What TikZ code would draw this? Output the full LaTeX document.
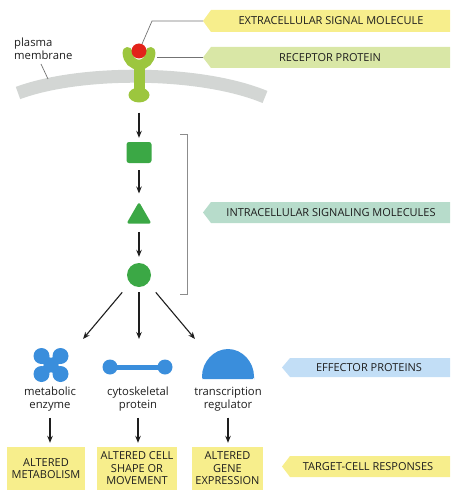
\documentclass[tikz,border=0pt]{standalone}
\usepackage{fontspec}
\setmainfont{Open Sans}
\usetikzlibrary{arrows.meta,shapes.geometric}
\definecolor{ylw}{HTML}{F7EE8C}
\definecolor{rgreen}{HTML}{D9E7A6}
\definecolor{tealb}{HTML}{B7DCCB}
\definecolor{lblue}{HTML}{C2DEF6}
\definecolor{memb}{HTML}{D3D6D4}
\definecolor{rec}{HTML}{9CC63E}
\definecolor{sig}{HTML}{3BA845}
\definecolor{eff}{HTML}{3A8EDC}
\definecolor{txt}{HTML}{1E1E1E}
\definecolor{ligred}{HTML}{E2231A}
\tikzset{
 arr/.style={-{Stealth[length=7pt,width=5.5pt]},line width=1.1pt,draw=txt},
 lead/.style={draw=black!55,line width=0.7pt},
 bantext/.style={font=\fontsize{11}{12}\selectfont,text=txt,inner sep=0},
 lbl/.style={font=\fontsize{11.3}{13}\selectfont,text=txt,align=center,inner sep=0},
 resp/.style={fill=ylw,font=\fontsize{11}{12.5}\selectfont,text=txt,align=center,inner sep=0,minimum height=43pt},
 sigshape/.style={fill=sig,inner sep=0},
}
\newcommand\mybanner[7]{%
 \fill[#5] (#2,{(#3+#4)/2}) -- (#2+8,#3) -- (450,#3) -- (450,#4) -- (#2+8,#4) -- cycle;
 \coordinate (#1tip) at (#2,{(#3+#4)/2});
 \node[bantext] (#1) at (#7,{(#3+#4)/2}) {#6};}
\begin{document}
\begin{tikzpicture}[x=1pt,y=-1pt]
\useasboundingbox (0,0) rectangle (455,500);
% banners
\mybanner{ext}{203}{10}{32}{ylw}{EXTRACELLULAR SIGNAL MOLECULE}{331}
\mybanner{recb}{203}{47}{68}{rgreen}{RECEPTOR PROTEIN}{330}
\mybanner{intra}{203}{202}{223}{tealb}{INTRACELLULAR SIGNALING MOLECULES}{331}
\mybanner{effb}{282}{358}{377}{lblue}{EFFECTOR PROTEINS}{369}
\mybanner{targ}{282}{456}{477}{ylw}{TARGET-CELL RESPONSES}{368}
% membrane
\draw[memb,line width=13pt] (18,93) .. controls (80,70) and (200,70) .. (265,97);
\node[lbl,align=left,anchor=west] (pm) at (14,48.5) {plasma\\membrane};
\coordinate (pmend) at (48,79);
\draw[lead] (41,64) -- (pmend);
% receptor
\draw[rec,line width=10pt,line cap=round] (127.5,52) .. controls (128,69) and (150,69) .. (150.5,52);
\fill[rec] (133.5,62) rectangle (144.5,92);
\node[ellipse,fill=rec,minimum width=21pt,minimum height=15pt,inner sep=0] (foot) at (139,95) {};
\node[circle,fill=ligred,minimum size=15pt,inner sep=0] (lig) at (139,51) {};
\coordinate (extbend) at (152,21);
\draw[lead] (exttip) -- (extbend) -- (lig);
\coordinate (recarm) at (157,57.5);
\draw[lead] (recbtip) -- (recarm);
% intracellular signaling molecules
\node[sigshape,rounded corners=2.5pt,minimum width=25pt,minimum height=21pt] (s1) at (139,152.5) {};
\node[sigshape,regular polygon,regular polygon sides=3,rounded corners=2.5pt,minimum size=29pt] (s2) at (139,216.4) {};
\node[sigshape,circle,minimum size=24pt] (s3) at (139,275) {};
\draw[arr,shorten <=10pt,shorten >=4pt] (foot) -- (s1);
\draw[arr,shorten <=7pt,shorten >=8pt] (s1) -- (s2);
\draw[arr,shorten <=8pt,shorten >=6pt] (s2.south) -- (s3);
\coordinate (brt) at (180,134);
\coordinate (brb) at (180,294);
\draw[draw=black!45,line width=0.8pt] (brt) -- (187,134) -- (187,294) -- (brb);
% effector arrows
\coordinate (e1) at (83,339);
\coordinate (e2) at (139,339);
\coordinate (e3) at (195,339);
\draw[arr,shorten <=12pt] (s3.222) -- (e1);
\draw[arr,shorten <=5pt] (s3.south) -- (e2);
\draw[arr,shorten <=12pt] (s3.318) -- (e3);
% effector proteins
\begin{scope}[eff]
 \fill (51,365) circle (7.5);
 \foreach \dx in {-9.5,9.5}{\foreach \dy in {-9,9}{\fill (51+\dx,365+\dy) circle (8);}}
 \draw[line width=9pt] (41.5,356) -- (60.5,374) (41.5,374) -- (60.5,356);
 \fill (110,367) circle (7.5) (165,367) circle (7.5);
 \draw[line width=5pt] (110,367) -- (165,367);
 \fill[rounded corners=1.5pt] (202,379) -- (202,378) arc[start angle=180,end angle=360,x radius=26,y radius=29] -- (254,379) -- cycle;
\end{scope}
\node[lbl] (l1) at (50,399.5) {metabolic\\enzyme};
\node[lbl] (l2) at (138,399.5) {cytoskeletal\\protein};
\node[lbl] (l3) at (228,399.5) {transcription\\regulator};
% responses
\node[resp,minimum width=78pt] (r1) at (46,468.5) {ALTERED\\METABOLISM};
\node[resp,minimum width=80pt] (r2) at (137,468.5) {ALTERED CELL\\SHAPE OR\\MOVEMENT};
\node[resp,minimum width=71pt] (r3) at (227.5,468.5) {ALTERED\\GENE\\EXPRESSION};
\draw[arr,shorten <=6pt,shorten >=4pt] (l1.south) -- (l1.south |- r1.north);
\draw[arr,shorten <=6pt,shorten >=4pt] (l2.south) -- (l2.south |- r2.north);
\draw[arr,shorten <=6pt,shorten >=4pt] (l3.south) -- (l3.south |- r3.north);
\end{tikzpicture}
\end{document}
